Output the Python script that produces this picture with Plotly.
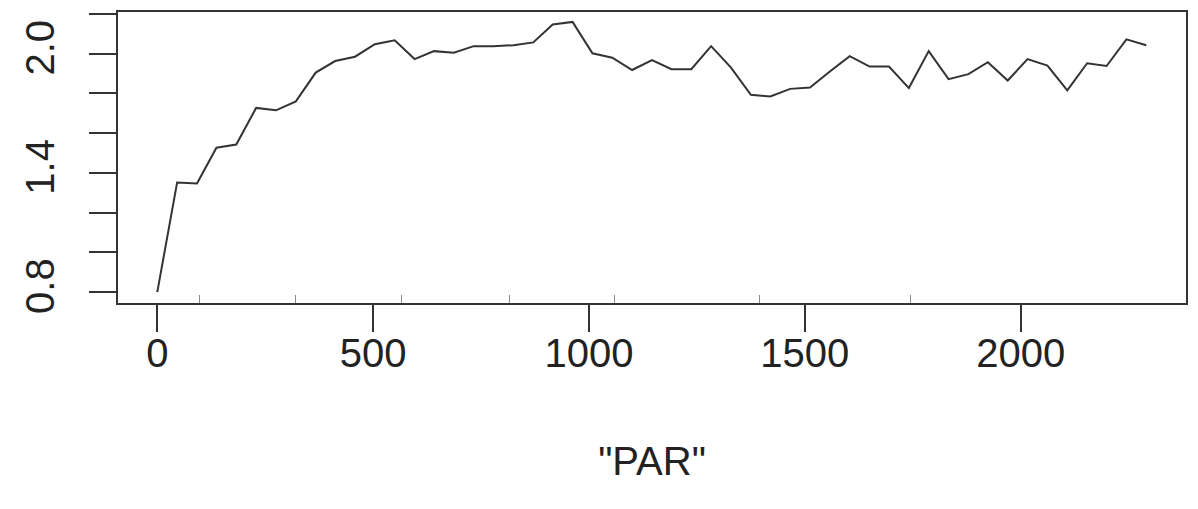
import plotly.graph_objects as go

# Partial dependence on PAR (evenly spaced grid of 51 points)
par = [0, 46, 92, 137, 183, 229, 275, 321, 367, 412, 458, 504, 550, 596, 641,
       687, 733, 779, 825, 871, 916, 962, 1008, 1054, 1100, 1146, 1191, 1237,
       1283, 1329, 1375, 1420, 1466, 1512, 1558, 1604, 1650, 1695, 1741, 1787,
       1833, 1879, 1924, 1970, 2016, 2062, 2108, 2154, 2199, 2245, 2291]
effect = [0.80, 1.352, 1.347, 1.527, 1.543, 1.727, 1.715, 1.760, 1.905, 1.963,
          1.985, 2.048, 2.068, 1.973, 2.013, 2.005, 2.038, 2.038, 2.043, 2.057,
          2.147, 2.160, 2.002, 1.980, 1.918, 1.968, 1.922, 1.922, 2.038, 1.930,
          1.793, 1.785, 1.823, 1.830, 1.910, 1.988, 1.935, 1.935, 1.827, 2.013,
          1.872, 1.897, 1.957, 1.865, 1.973, 1.940, 1.815, 1.952, 1.938, 2.072,
          2.043]

# deciles of PAR shown as a rug
rug = [97, 321, 566, 816, 1060, 1396, 1745]

x_ticks = [0, 500, 1000, 1500, 2000]
y_ticks = [0.8, 1.0, 1.2, 1.4, 1.6, 1.8, 2.0, 2.2]
y_labels = ["0.8", "", "", "1.4", "", "", "2.0", ""]

ink = "#333333"
font = dict(family="Liberation Sans, Arial, sans-serif", size=40, color="#222222")

fig = go.Figure()
fig.add_trace(go.Scatter(x=par, y=effect, mode="lines",
                         line=dict(color="#333333", width=2),
                         showlegend=False, hoverinfo="skip"))

fig.update_layout(
    width=1198, height=509,
    margin=dict(l=118, r=10, t=10, b=206),
    paper_bgcolor="white", plot_bgcolor="white",
    font=font,
)
fig.update_xaxes(
    range=[-91, 2383], tickvals=x_ticks, ticktext=[str(v) for v in x_ticks],
    ticks="outside", ticklen=27, tickwidth=1.5, tickcolor=ink,
    showline=True, linecolor=ink, linewidth=1.5, mirror=True,
    showgrid=False, zeroline=False, tickfont=font, ticklabelstandoff=-13,
    title=dict(text='"PAR"', font=font, standoff=73),
    minor=dict(tickvals=rug, ticks="inside", ticklen=8, tickwidth=1,
               tickcolor="#8a8a8a", showgrid=False),
)
fig.update_yaxes(
    range=[0.745, 2.21], tickvals=y_ticks, ticktext=y_labels,
    ticks="outside", ticklen=27, tickwidth=1.5, tickcolor=ink,
    showline=True, linecolor=ink, linewidth=1.5, mirror=True,
    showgrid=False, zeroline=False, tickfont=font, tickangle=-90,
    ticklabelstandoff=19,
)

fig.write_html("out.html")
